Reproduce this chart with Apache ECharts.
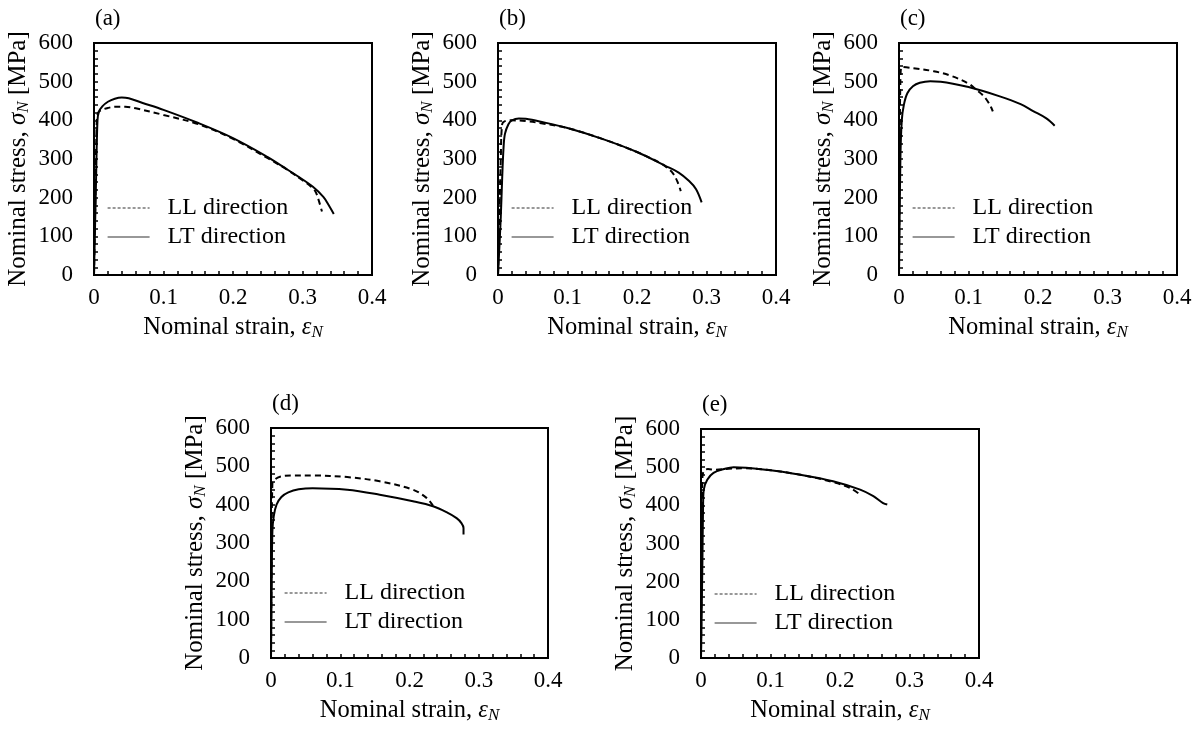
<!DOCTYPE html>
<html>
<head>
<meta charset="utf-8">
<script src="https://cdn.jsdelivr.net/npm/echarts@6/dist/echarts.min.js"></script>
<style>
html, body { margin: 0; padding: 0; background: #fff; }
#chart { width: 1200px; height: 729px; }
</style>
</head>
<body>
<div id="chart"></div>
<script>
// panel labels and legend names
var panelNames = ['(a)', '(b)', '(c)', '(d)', '(e)'];
var seriesNames = ['LL direction', 'LT direction'];
var strainTicks = [0, 0.4, 0.1];   // min, max, interval
var stressTicks = [0, 600, 100];

// [strain, stress MPa]
var llA = [[0,0],[0.002,200],[0.004,400],[0.006,420],[0.01,426],[0.02,432],[0.03,435],[0.045,435],[0.06,431],[0.1,414],[0.15,390],[0.2,352],[0.25,302],[0.28,270],[0.3,245],[0.31,232],[0.318,218],[0.323,195],[0.328,164]];
var ltA = [[0,0],[0.003,250],[0.005,400],[0.007,422],[0.012,436],[0.02,448],[0.03,456],[0.04,459],[0.05,457],[0.07,445],[0.1,427],[0.15,393],[0.2,354],[0.25,305],[0.27,282],[0.296,252],[0.315,228],[0.33,202],[0.338,180],[0.345,158]];

var llB = [[0,0],[0.002,150],[0.004,300],[0.006,390],[0.01,398],[0.02,400],[0.04,398],[0.06,393],[0.1,380],[0.15,352],[0.2,318],[0.235,288],[0.245,275],[0.252,262],[0.258,242],[0.263,217]];
var ltB = [[0,0],[0.004,150],[0.006,250],[0.008,330],[0.01,365],[0.015,390],[0.02,400],[0.03,405],[0.04,404],[0.06,397],[0.1,380],[0.15,352],[0.2,318],[0.24,283],[0.26,265],[0.275,243],[0.285,222],[0.293,188]];

var llC = [[0,0],[0.001,300],[0.002,500],[0.004,538],[0.02,535],[0.05,527],[0.075,515],[0.1,495],[0.112,478],[0.12,466],[0.128,448],[0.133,432],[0.135,423]];
var ltC = [[0,0],[0.002,300],[0.004,400],[0.007,440],[0.012,470],[0.02,488],[0.03,497],[0.045,501],[0.06,500],[0.1,486],[0.145,462],[0.175,442],[0.193,424],[0.212,405],[0.224,386]];

var llD = [[0,0],[0.001,300],[0.002,455],[0.006,466],[0.013,473],[0.03,476],[0.06,476],[0.11,472],[0.157,461],[0.205,439],[0.225,417],[0.234,397]];
var ltD = [[0,0],[0.001,200],[0.002,330],[0.004,370],[0.008,400],[0.015,420],[0.025,432],[0.04,440],[0.06,443],[0.11,439],[0.157,426],[0.205,409],[0.234,396],[0.254,380],[0.268,365],[0.275,352],[0.278,339],[0.278,322]];

var llE = [[0,0],[0.001,300],[0.002,470],[0.004,490],[0.01,495],[0.02,493],[0.04,496],[0.06,497],[0.1,492],[0.143,480],[0.19,461],[0.215,445],[0.229,428]];
var ltE = [[0,0],[0.002,250],[0.003,400],[0.004,441],[0.009,467],[0.018,485],[0.033,495],[0.047,500],[0.095,493],[0.143,480],[0.19,463],[0.229,441],[0.248,424],[0.262,406],[0.268,402]];

var llData = [llA, llB, llC, llD, llE];
var ltData = [ltA, ltB, ltC, ltD, ltE];

// plot boxes [left, top, width, height]
var boxes = [
    [94, 43, 278, 232],
    [498, 43, 278, 232],
    [899, 43, 278, 232],
    [271, 428, 277, 230],
    [701, 429, 278, 229]
];

var font = 'Liberation Serif';
function richName(size) {
    return {
        i: { fontFamily: font, fontSize: size, fontStyle: 'italic', color: '#000' },
        s: { fontFamily: font, fontSize: Math.round(size * 0.68), fontStyle: 'italic', color: '#000', padding: [10, 0, 0, 0] }
    };
}

var myChart = echarts.init(document.getElementById('chart'), null, { renderer: 'canvas' });
var grid = [], xAxis = [], yAxis = [], series = [], legend = [], title = [];

boxes.forEach(function (b, k) {
    grid.push({
        left: b[0], top: b[1], width: b[2], height: b[3],
        show: true, borderColor: '#000', borderWidth: 2, backgroundColor: 'transparent'
    });
    title.push({
        text: panelNames[k], left: b[0] + 1, top: b[1] - 36, padding: 0,
        textStyle: { fontFamily: font, fontSize: 23, fontWeight: 'normal', color: '#000' }
    });
    xAxis.push({
        gridIndex: k, type: 'value',
        min: strainTicks[0], max: strainTicks[1], interval: strainTicks[2],
        name: 'Nominal strain, {i|ε}{s|N}',
        nameLocation: 'middle', nameGap: 39,
        nameTextStyle: { fontFamily: font, fontSize: 24.5, color: '#000', rich: richName(24.5) },
        axisLine: { lineStyle: { color: '#000', width: 2 } },
        axisTick: { inside: true, length: 4, lineStyle: { color: '#000', width: 1.5 } },
        minorTick: { show: true, splitNumber: 5, length: 4, lineStyle: { color: '#000', width: 1.5 } },
        splitLine: { show: false },
        axisLabel: { margin: 11, fontFamily: font, fontSize: 23, color: '#000' }
    });
    yAxis.push({
        gridIndex: k, type: 'value',
        min: stressTicks[0], max: stressTicks[1], interval: stressTicks[2],
        name: 'Nominal stress, {i|σ}{s|N} [MPa]',
        nameLocation: 'middle', nameGap: 62, nameRotate: 90,
        nameTextStyle: { fontFamily: font, fontSize: 25, color: '#000', rich: richName(25) },
        axisLine: { lineStyle: { color: '#000', width: 2 } },
        axisTick: { inside: true, length: 4, lineStyle: { color: '#000', width: 1.5 } },
        minorTick: { show: true, splitNumber: 5, length: 4, lineStyle: { color: '#000', width: 1.5 } },
        splitLine: { show: false },
        axisLabel: { margin: 21, fontFamily: font, fontSize: 23, color: '#000' }
    });
    series.push({
        name: seriesNames[0], type: 'line', xAxisIndex: k, yAxisIndex: k,
        data: llData[k], symbol: 'none', smooth: 0.35,
        lineStyle: { color: '#000', width: 2, type: [6, 4] }, itemStyle: { color: '#000' }
    });
    series.push({
        name: seriesNames[1], type: 'line', xAxisIndex: k, yAxisIndex: k,
        data: ltData[k], symbol: 'none', smooth: 0.35,
        lineStyle: { color: '#000', width: 2, type: 'solid' }, itemStyle: { color: '#000' }
    });
    legend.push({
        orient: 'vertical', left: b[0] + 13, top: b[1] + 153, padding: 0,
        itemWidth: 42, itemHeight: 14, itemGap: 5,
        itemStyle: { opacity: 0 },
        data: [
            { name: seriesNames[0], lineStyle: { width: 1.2, type: [3, 2], color: '#333' } },
            { name: seriesNames[1], lineStyle: { width: 1.2, type: 'solid', color: '#333' } }
        ],
        textStyle: { fontFamily: font, fontSize: 24, color: '#000', lineHeight: 24, padding: [0, 0, 0, 13] },
        selectedMode: false
    });
});

var option = {
    backgroundColor: '#fff',
    animation: false,
    title: title,
    legend: legend,
    grid: grid,
    xAxis: xAxis,
    yAxis: yAxis,
    series: series
};

myChart.setOption(option);
</script>
</body>
</html>
